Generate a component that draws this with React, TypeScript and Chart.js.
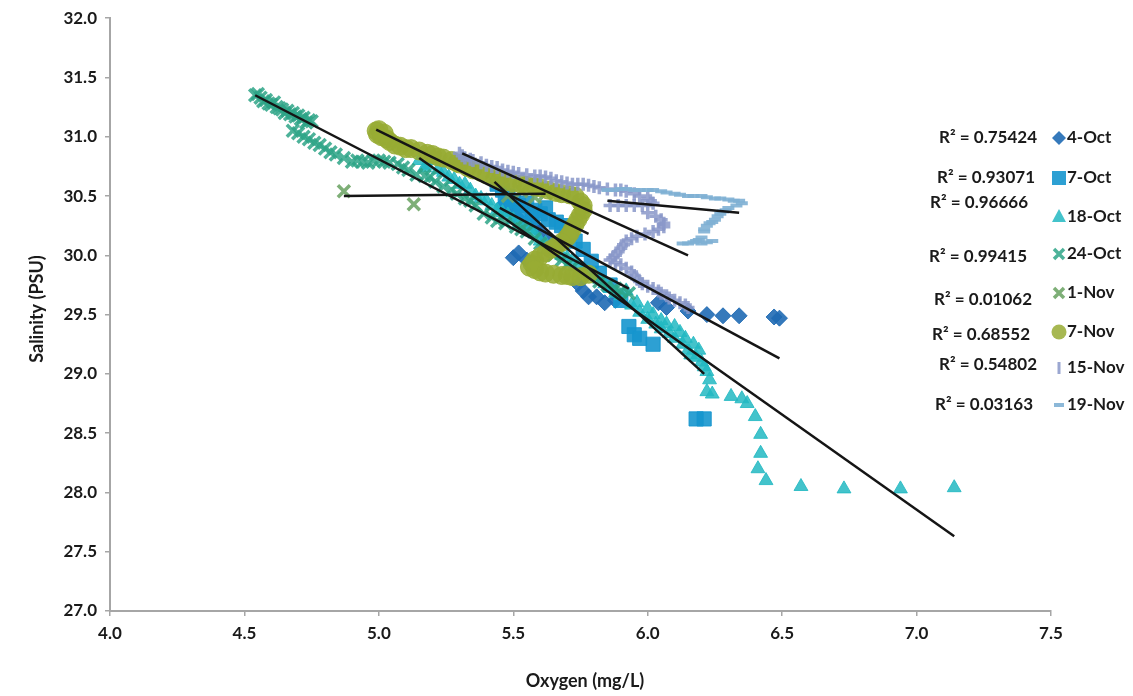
import React, { useEffect, useRef } from "react";
import { Chart, registerables } from "chart.js";

Chart.register(...registerables);

// ---------------- DATA ----------------
const seriesNames = ["4-Oct", "7-Oct", "18-Oct", "24-Oct", "1-Nov", "7-Nov", "15-Nov", "19-Nov"];
const rSquared = ["0.75424", "0.93071", "0.96666", "0.99415", "0.01062", "0.68552", "0.54802", "0.03163"];

const xTickValues = [4.0, 4.5, 5.0, 5.5, 6.0, 6.5, 7.0, 7.5];
const yTickValues = [27.0, 27.5, 28.0, 28.5, 29.0, 29.5, 30.0, 30.5, 31.0, 31.5, 32.0];

// [oxygen mg/L, salinity PSU]
const oct4: number[][] = [
  [5.46, 30.42], [5.49, 30.38], [5.51, 30.33], [5.53, 30.28], [5.56, 30.3], [5.58, 30.24], [5.6, 30.2],
  [5.63, 30.13], [5.66, 30.08], [5.5, 29.98], [5.52, 30.02], [5.55, 29.96], [5.74, 29.76], [5.76, 29.7],
  [5.78, 29.65], [5.81, 29.65], [5.84, 29.6], [5.88, 29.62], [6.04, 29.6], [6.07, 29.56], [6.15, 29.53],
  [6.22, 29.5], [6.28, 29.49], [6.34, 29.49], [6.47, 29.48], [6.49, 29.47],
];
const oct7: number[][] = [
  [5.44, 30.6], [5.46, 30.55], [5.48, 30.5], [5.5, 30.46], [5.52, 30.42], [5.55, 30.44], [5.58, 30.38],
  [5.6, 30.35], [5.63, 30.3], [5.66, 30.28], [5.7, 30.2], [5.73, 30.12], [5.76, 30.05], [5.79, 29.95],
  [5.82, 29.85], [5.86, 29.75], [5.9, 29.62], [5.93, 29.4], [5.95, 29.33], [5.97, 29.3], [6.02, 29.25],
  [6.18, 28.62], [6.21, 28.62], [5.47, 30.45], [5.53, 30.36], [5.57, 30.32], [5.62, 30.4], [5.68, 30.25],
];
const oct18: number[][] = [
  [5.15, 30.8], [5.18, 30.76], [5.22, 30.72], [5.26, 30.66], [5.3, 30.6], [5.34, 30.55], [5.38, 30.48],
  [5.42, 30.42], [5.46, 30.36], [5.5, 30.3], [5.54, 30.24], [5.58, 30.18], [5.62, 30.1], [5.66, 30.04],
  [5.7, 29.98], [5.74, 29.92], [5.78, 29.86], [5.82, 29.8], [5.86, 29.72], [5.9, 29.66], [5.92, 29.7],
  [5.94, 29.58], [5.97, 29.52], [6.0, 29.46], [6.0, 29.55], [6.03, 29.42], [6.05, 29.38], [6.05, 29.45],
  [6.08, 29.34], [6.1, 29.3], [6.12, 29.35], [6.13, 29.25], [6.15, 29.2], [6.17, 29.25], [6.18, 29.14],
  [6.2, 29.1], [6.22, 29.02], [6.22, 28.85], [6.24, 28.83], [6.31, 28.81], [6.35, 28.79], [6.37, 28.75],
  [6.4, 28.64], [6.42, 28.49], [6.42, 28.33], [6.41, 28.2], [6.44, 28.1], [6.57, 28.05], [6.73, 28.03],
  [6.94, 28.03], [7.14, 28.04],
  [5.17, 30.74], [5.2, 30.8], [5.24, 30.7], [5.28, 30.64], [5.32, 30.6], [5.36, 30.5], [5.4, 30.46],
  [5.44, 30.38], [5.48, 30.34], [5.52, 30.26], [5.56, 30.22], [5.6, 30.12], [5.64, 30.08], [5.68, 30.0],
  [5.72, 29.96], [5.76, 29.88], [5.8, 29.84], [5.84, 29.76], [5.88, 29.68], [5.96, 29.6], [6.02, 29.5],
  [6.07, 29.42], [6.1, 29.4], [6.14, 29.3], [6.16, 29.16], [6.19, 29.2], [6.21, 29.06], [6.23, 28.95],
];
const oct24: number[][] = [
  [4.54, 31.35], [4.56, 31.33], [4.57, 31.3], [4.6, 31.27], [4.62, 31.25], [4.64, 31.23], [4.66, 31.22],
  [4.68, 31.2], [4.7, 31.18], [4.72, 31.16], [4.74, 31.14], [4.75, 31.13], [4.68, 31.05], [4.72, 31.0],
  [4.76, 30.95], [4.78, 30.93], [4.82, 30.87], [4.87, 30.82], [4.9, 30.79], [4.94, 30.79], [4.98, 30.8],
  [5.02, 30.79], [5.07, 30.77], [5.09, 30.74], [5.14, 30.68], [5.19, 30.66], [5.24, 30.58], [5.29, 30.52],
  [5.34, 30.46], [5.39, 30.35], [5.44, 30.29], [5.51, 30.24], [5.55, 30.2], [5.6, 30.1], [5.65, 30.0],
  [5.7, 29.92], [5.75, 29.85], [5.82, 29.78], [5.88, 29.72], [5.93, 29.68],
  [4.55, 31.36], [4.58, 31.31], [4.59, 31.28], [4.61, 31.29], [4.63, 31.24], [4.65, 31.2], [4.67, 31.19],
  [4.69, 31.17], [4.71, 31.15], [4.73, 31.12], [4.7, 31.03], [4.74, 30.98], [4.8, 30.9], [4.84, 30.85],
  [4.92, 30.8], [4.96, 30.78], [5.0, 30.8], [5.04, 30.78], [5.11, 30.72], [5.17, 30.67], [5.21, 30.62],
  [5.27, 30.55], [5.32, 30.48], [5.36, 30.42], [5.42, 30.32], [5.47, 30.27], [5.53, 30.22], [5.58, 30.14],
  [5.62, 30.05], [5.68, 29.96], [5.72, 29.9], [5.78, 29.82], [5.85, 29.75], [5.9, 29.7],
];
const nov1: number[][] = [
  [4.87, 30.54], [5.13, 30.43], [5.48, 30.5], [5.53, 30.54], [5.58, 30.49], [5.62, 30.52],
];
const nov7: number[][] = [
  [4.99, 31.05], [5.0, 31.06], [5.02, 31.03], [5.03, 30.98], [5.06, 30.93], [5.1, 30.9], [5.15, 30.88],
  [5.2, 30.85], [5.24, 30.82], [5.27, 30.8], [5.3, 30.77], [5.33, 30.74], [5.38, 30.7], [5.43, 30.65],
  [5.48, 30.62], [5.53, 30.6], [5.58, 30.58], [5.63, 30.55], [5.68, 30.52], [5.73, 30.5], [5.75, 30.45],
  [5.76, 30.38], [5.74, 30.3], [5.72, 30.22], [5.7, 30.15], [5.66, 30.08], [5.62, 30.02], [5.58, 29.96],
  [5.56, 29.9], [5.6, 29.86], [5.65, 29.84], [5.7, 29.83], [5.75, 29.82], [5.78, 29.84],
  [4.995, 31.02], [5.01, 31.0], [5.04, 30.96], [5.08, 30.92], [5.12, 30.9], [5.18, 30.86], [5.22, 30.83],
  [5.29, 30.78], [5.35, 30.72], [5.4, 30.68], [5.45, 30.64], [5.5, 30.61], [5.55, 30.59], [5.6, 30.57],
  [5.66, 30.53], [5.71, 30.51], [5.76, 30.42], [5.75, 30.34], [5.73, 30.26], [5.71, 30.18], [5.68, 30.11],
  [5.64, 30.05], [5.6, 29.99], [5.57, 29.93], [5.58, 29.88], [5.62, 29.85], [5.68, 29.83], [5.72, 29.82],
];
const nov15: number[][] = [
  [5.3, 30.86], [5.32, 30.82], [5.35, 30.8], [5.38, 30.78], [5.42, 30.75], [5.46, 30.72], [5.5, 30.7],
  [5.55, 30.68], [5.6, 30.67], [5.64, 30.65], [5.68, 30.62], [5.72, 30.6], [5.76, 30.6], [5.8, 30.58],
  [5.85, 30.56], [5.9, 30.55], [5.95, 30.52], [6.0, 30.48], [6.02, 30.44], [5.98, 30.42], [5.92, 30.42],
  [5.86, 30.42], [6.0, 30.36], [6.05, 30.3], [6.06, 30.24], [6.02, 30.2], [5.96, 30.16], [5.92, 30.12],
  [5.9, 30.06], [5.88, 30.0], [5.86, 29.96], [5.9, 29.92], [5.94, 29.86], [5.96, 29.8], [5.98, 29.76],
  [6.02, 29.72], [6.05, 29.68], [6.08, 29.64], [6.12, 29.6], [6.15, 29.56],
  [5.31, 30.84], [5.34, 30.81], [5.4, 30.76], [5.44, 30.74], [5.48, 30.71], [5.52, 30.69], [5.58, 30.67],
  [5.62, 30.66], [5.66, 30.63], [5.7, 30.61], [5.74, 30.6], [5.78, 30.59], [5.82, 30.57], [5.88, 30.55],
  [5.92, 30.54], [5.97, 30.5], [6.01, 30.46], [5.95, 30.42], [5.89, 30.42], [6.03, 30.33], [6.06, 30.27],
  [6.04, 30.22], [5.99, 30.18], [5.94, 30.14], [5.91, 30.09], [5.89, 30.03], [5.87, 29.98], [5.88, 29.94],
  [5.92, 29.89], [5.95, 29.83], [5.97, 29.78], [6.0, 29.74], [6.04, 29.7], [6.07, 29.66], [6.1, 29.62],
  [6.14, 29.58],
];
const nov19: number[][] = [
  [5.85, 30.55], [5.9, 30.56], [5.95, 30.55], [6.0, 30.55], [6.05, 30.54], [6.1, 30.52], [6.15, 30.5],
  [6.2, 30.5], [6.25, 30.48], [6.3, 30.47], [6.34, 30.46], [6.35, 30.44], [6.3, 30.4], [6.28, 30.37],
  [6.26, 30.33], [6.24, 30.28], [6.22, 30.25], [6.21, 30.2], [6.2, 30.15], [6.18, 30.12], [6.15, 30.1],
  [6.13, 30.1], [6.2, 30.1], [6.24, 30.12],
  [5.87, 30.55], [5.92, 30.56], [5.97, 30.55], [6.02, 30.55], [6.07, 30.53], [6.12, 30.51], [6.17, 30.5],
  [6.22, 30.49], [6.27, 30.48], [6.32, 30.46], [6.33, 30.42], [6.29, 30.38], [6.27, 30.35], [6.25, 30.3],
  [6.23, 30.27], [6.21, 30.22], [6.19, 30.13], [6.17, 30.11], [6.22, 30.11],
];

// linear trendlines (start / end in data units)
const trendStartO = [5.45, 5.43, 5.15, 4.54, 4.87, 4.99, 5.31, 5.85];
const trendStartS = [30.4, 30.62, 30.82, 31.35, 30.5, 31.06, 30.86, 30.46];
const trendEndO = [6.49, 6.21, 7.14, 5.93, 5.62, 5.78, 6.15, 6.34];
const trendEndS = [29.13, 29.0, 27.63, 29.72, 30.52, 30.18, 30.0, 30.36];

// ---------------- STYLE ----------------
const allSeries = [oct4, oct7, oct18, oct24, nov1, nov7, nov15, nov19];
const seriesColors = [
  "rgba(31,106,180,0.9)",
  "rgba(22,150,206,0.9)",
  "rgba(34,184,194,0.85)",
  "rgba(46,164,135,0.85)",
  "rgba(112,166,104,0.9)",
  "rgba(152,172,52,0.85)",
  "rgba(138,152,201,0.85)",
  "rgba(128,176,212,0.9)",
];
const pointStyles = ["rectRot", "rect", "triangle", "crossRot", "crossRot", "circle", "cross", "line"];
const pointRadii = [8, 10, 8, 8.5, 8.5, 9, 6.5, 6];
const pointBorders = [1, 1, 1, 3.5, 3.5, 1, 3.5, 4];

const FONT = "Lato, 'Open Sans', sans-serif";
const legendMarkerX = 1059;
const legendTextX = 1067;
const legendItemY = [138, 178, 217, 254, 293, 332, 368, 405];
const r2Right = [1037, 1035, 1028, 1027, 1032, 1030, 1037, 1033];
const r2Y = [138, 178, 203, 257, 300, 335, 365, 405];

function drawLegendMarker(ctx: CanvasRenderingContext2D, i: number, x: number, y: number) {
  const c = seriesColors[i];
  ctx.save();
  ctx.fillStyle = c;
  ctx.strokeStyle = c;
  ctx.beginPath();
  switch (i) {
    case 0:
      ctx.moveTo(x, y - 7); ctx.lineTo(x + 7, y); ctx.lineTo(x, y + 7); ctx.lineTo(x - 7, y); ctx.closePath(); ctx.fill();
      break;
    case 1:
      ctx.rect(x - 7, y - 7, 14, 14); ctx.fill();
      break;
    case 2:
      ctx.moveTo(x, y - 8); ctx.lineTo(x + 7, y + 5); ctx.lineTo(x - 7, y + 5); ctx.closePath(); ctx.fill();
      break;
    case 3:
    case 4:
      ctx.lineWidth = 3.5;
      ctx.moveTo(x - 5, y - 5); ctx.lineTo(x + 5, y + 5); ctx.moveTo(x + 5, y - 5); ctx.lineTo(x - 5, y + 5); ctx.stroke();
      break;
    case 5:
      ctx.arc(x, y, 7.5, 0, Math.PI * 2); ctx.fill();
      break;
    case 6:
      ctx.lineWidth = 3;
      ctx.moveTo(x, y - 6); ctx.lineTo(x, y + 6); ctx.stroke();
      break;
    case 7:
      ctx.lineWidth = 4;
      ctx.moveTo(x - 5, y); ctx.lineTo(x + 5, y); ctx.stroke();
      break;
  }
  ctx.restore();
}

const overlayPlugin = {
  id: "overlay",
  afterDraw(chart: any) {
    const ctx: CanvasRenderingContext2D = chart.ctx;
    ctx.save();
    ctx.fillStyle = "#1a1a1a";
    ctx.textBaseline = "middle";
    ctx.font = `bold 17px ${FONT}`;
    for (let i = 0; i < seriesNames.length; i++) {
      drawLegendMarker(ctx, i, legendMarkerX, legendItemY[i]);
      ctx.fillStyle = "#1a1a1a";
      ctx.textAlign = "left";
      ctx.fillText(seriesNames[i], legendTextX, legendItemY[i]);
      ctx.textAlign = "right";
      ctx.fillText(`R² = ${rSquared[i]}`, r2Right[i], r2Y[i]);
    }
    // axis titles
    ctx.font = `bold 18px ${FONT}`;
    ctx.textAlign = "center";
    ctx.fillText("Oxygen (mg/L)", 585, 681);
    ctx.translate(37, 309);
    ctx.rotate(-Math.PI / 2);
    ctx.fillText("Salinity (PSU)", 0, 0);
    ctx.restore();
  },
};

export default function App() {
  const ref = useRef<HTMLCanvasElement | null>(null);
  useEffect(() => {
    if (!ref.current) return;
    const datasets: any[] = [];
    allSeries.forEach((pts, i) => {
      datasets.push({
        label: seriesNames[i],
        data: pts.map(([x, y]) => ({ x, y })),
        pointStyle: pointStyles[i],
        pointRadius: pointRadii[i],
        pointBackgroundColor: seriesColors[i],
        pointBorderColor: seriesColors[i],
        pointBorderWidth: pointBorders[i],
        showLine: false,
        order: 20 - i,
      });
    });
    seriesNames.forEach((name, i) => {
      datasets.push({
        label: name + " trend",
        data: [
          { x: trendStartO[i], y: trendStartS[i] },
          { x: trendEndO[i], y: trendEndS[i] },
        ],
        showLine: true,
        borderColor: "#151515",
        borderWidth: 2.5,
        pointRadius: 0,
        fill: false,
        order: 0,
      });
    });
    const tickFont = { family: FONT, size: 17, weight: "bold" as const };
    const chart = new Chart(ref.current, {
      type: "scatter",
      data: { datasets },
      options: {
        animation: false,
        responsive: false,
        devicePixelRatio: 1,
        layout: { padding: { left: 0, top: 14, right: 82, bottom: 0 } },
        plugins: { legend: { display: false }, tooltip: { enabled: false } },
        scales: {
          x: {
            type: "linear",
            min: 4,
            max: 7.5,
            afterBuildTicks: (s: any) => { s.ticks = xTickValues.map((v) => ({ value: v })); },
            ticks: { font: tickFont, color: "#1a1a1a", padding: 7, callback: (v: any) => Number(v).toFixed(1) },
            grid: { drawOnChartArea: false, drawTicks: true, tickLength: 5, color: "#a6a6a6", lineWidth: 1.5 },
            border: { color: "#a6a6a6", width: 2 },
            afterFit: (s: any) => { s.height = 85; },
          },
          y: {
            type: "linear",
            min: 27,
            max: 32,
            afterBuildTicks: (s: any) => { s.ticks = yTickValues.map((v) => ({ value: v })); },
            ticks: { font: tickFont, color: "#1a1a1a", padding: 8, callback: (v: any) => Number(v).toFixed(1) },
            grid: { drawOnChartArea: false, drawTicks: true, tickLength: 5, color: "#a6a6a6", lineWidth: 1.5 },
            border: { color: "#a6a6a6", width: 2 },
            afterFit: (s: any) => { s.width = 110; },
          },
        },
      },
      plugins: [overlayPlugin],
    } as any);
    return () => chart.destroy();
  }, []);
  return (
    <div style={{ position: "fixed", left: 0, top: 0, width: 1133, height: 696, background: "#fff" }}>
      <canvas ref={ref} width={1133} height={696} style={{ width: 1133, height: 696, display: "block" }} />
    </div>
  );
}
